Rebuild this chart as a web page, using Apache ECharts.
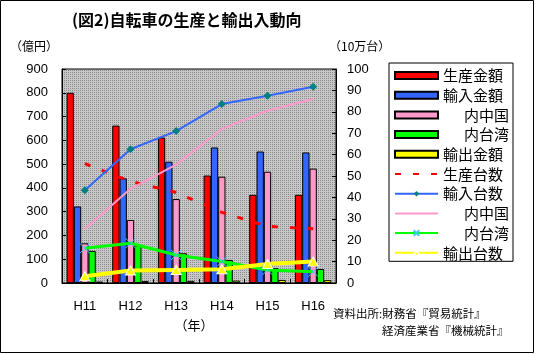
<!DOCTYPE html>
<html><head><meta charset="utf-8">
<script src="https://cdn.jsdelivr.net/npm/echarts@6/dist/echarts.min.js"></script>
<style>html,body{margin:0;padding:0;background:#fff}#c{width:535px;height:354px}</style>
</head><body><div id="c"></div>
<script>
// ---- data ----
const categories = ['H11', 'H12', 'H13', 'H14', 'H15', 'H16'];
// 億円 (left axis)
const prodValue = [800, 662, 612, 452, 371, 371];
const importValue = [322, 440, 510, 570, 553, 549];
const importValueChina = [167, 265, 353, 447, 468, 481];
const importValueTaiwan = [135, 158, 125, 97, 63, 59];
const exportValue = [6, 8, 9, 10, 13, 12];
// 10万台 (right axis)
const prodUnits = [55.8, 47.5, 42.3, 33, 26.5, 25.3];
const importUnits = [43.3, 62.5, 71, 83.6, 87.5, 91.7];
const importUnitsChina = [25.2, 44, 55.3, 72, 80.5, 86];
const importUnitsTaiwan = [16.2, 18.6, 13.1, 10, 6.1, 5.3];
const exportUnits = [3.2, 5.8, 6.1, 6.4, 8.9, 10];
const leftAxisMax = 900, leftAxisStep = 100;
const rightAxisMax = 100, rightAxisStep = 10;

const FONT = '"Noto Sans CJK JP", sans-serif';
const NUMFONT = '"Liberation Sans", Arial, sans-serif';

// dotted background pattern
const pc = document.createElement('canvas');
pc.width = 2; pc.height = 2;
const g = pc.getContext('2d');
g.fillStyle = '#c8c8c8'; g.fillRect(0, 0, 2, 2);
g.fillStyle = '#8a8a8a'; g.fillRect(0, 0, 1, 1);

const legendLabels = {
  '生産金額': '生産金額', '輸入金額': '輸入金額', '内中国A': '{ind|\u3000}内中国', '内台湾A': '{ind|\u3000}内台湾',
  '輸出金額': '輸出金額', '生産台数': '生産台数', '輸入台数': '輸入台数', '内中国B': '{ind|\u3000}内中国',
  '内台湾B': '{ind|\u3000}内台湾', '輸出台数': '輸出台数'
};

function bar(name, data, color) {
  return { name, type: 'bar', data, yAxisIndex: 0, barGap: '0%', barCategoryGap: '20%',
    itemStyle: { color, borderColor: '#000', borderWidth: 1 } };
}

const chart = echarts.init(document.getElementById('c'), null, { renderer: 'canvas' });
chart.setOption({
  animation: false,
  grid: { left: 62, right: 199, top: 69, bottom: 71, show: true,
    backgroundColor: { image: pc, repeat: 'repeat' }, borderColor: '#000', borderWidth: 1 },
  legend: {
    orient: 'vertical', left: 389, top: 63, itemWidth: 43, itemHeight: 7, itemGap: 4.7,
    padding: [5, 4, 1, 5], backgroundColor: '#fff', borderColor: '#000', borderWidth: 1,
    textStyle: { fontFamily: FONT, fontSize: 15, color: '#000', lineHeight: 14,
      rich: { ind: { width: 21, fontSize: 15, fontFamily: FONT } } },
    formatter: n => legendLabels[n],
    data: [
      { name: '生産金額', icon: 'rect' }, { name: '輸入金額', icon: 'rect' },
      { name: '内中国A', icon: 'rect' }, { name: '内台湾A', icon: 'rect' },
      { name: '輸出金額', icon: 'rect' },
      { name: '生産台数', itemStyle: { opacity: 0 } },
      '輸入台数',
      { name: '内中国B', itemStyle: { opacity: 0 } },
      '内台湾B', '輸出台数'
    ]
  },
  xAxis: {
    type: 'category', data: categories, boundaryGap: true,
    axisLine: { lineStyle: { color: '#000' } },
    axisTick: { show: true, inside: true, length: 4, lineStyle: { color: '#000' } },
    axisLabel: { color: '#000', fontFamily: NUMFONT, fontSize: 13, margin: 17 },
    splitLine: { show: false }
  },
  yAxis: [
    { type: 'value', min: 0, max: leftAxisMax, interval: leftAxisStep, position: 'left',
      axisLine: { show: true, lineStyle: { color: '#000' } },
      axisTick: { show: true, inside: true, length: 4, lineStyle: { color: '#000' } },
      axisLabel: { color: '#000', fontFamily: NUMFONT, fontSize: 13, margin: 14 },
      splitLine: { show: false } },
    { type: 'value', min: 0, max: rightAxisMax, interval: rightAxisStep, position: 'right',
      axisLine: { show: true, lineStyle: { color: '#000' } },
      axisTick: { show: true, inside: true, length: 4, lineStyle: { color: '#000' } },
      axisLabel: { color: '#000', fontFamily: NUMFONT, fontSize: 13, margin: 11 },
      splitLine: { show: false } }
  ],
  series: [
    bar('生産金額', prodValue, '#ff0000'),
    bar('輸入金額', importValue, '#3366ff'),
    bar('内中国A', importValueChina, '#ff99cc'),
    bar('内台湾A', importValueTaiwan, '#00ff00'),
    bar('輸出金額', exportValue, '#ffff00'),
    { name: '生産台数', type: 'line', yAxisIndex: 1, data: prodUnits, symbol: 'none',
      lineStyle: { color: '#ff0000', width: 3, type: [6, 12] }, itemStyle: { color: '#ff0000' } },
    { name: '輸入台数', type: 'line', yAxisIndex: 1, data: importUnits, symbol: 'diamond', symbolSize: 8,
      lineStyle: { color: '#3366ff', width: 2 }, itemStyle: { color: '#008080', borderWidth: 0 } },
    { name: '内中国B', type: 'line', yAxisIndex: 1, data: importUnitsChina, symbol: 'none',
      lineStyle: { color: '#ff99cc', width: 2 }, itemStyle: { color: '#ff99cc' } },
    { name: '内台湾B', type: 'line', yAxisIndex: 1, data: importUnitsTaiwan,
      symbol: 'path://M0,0L10,10M10,0L0,10', symbolSize: 10,
      lineStyle: { color: '#00ff00', width: 3 }, itemStyle: { color: 'rgba(0,0,0,0)', borderColor: '#33ccff', borderWidth: 1 } },
    { name: '輸出台数', type: 'line', yAxisIndex: 1, data: exportUnits, symbol: 'triangle', symbolSize: [10, 9],
      lineStyle: { color: '#ffff00', width: 4 }, itemStyle: { color: '#ffff00', borderColor: '#ffffff', borderWidth: 1 } }
  ],
  graphic: [
    { type: 'rect', shape: { x: 0.5, y: 0.5, width: 533, height: 352 }, style: { fill: 'none', stroke: '#000', lineWidth: 1 }, silent: true },
    { type: 'text', x: 72, y: 12, style: { text: '(図2)自転車の生産と輸出入動向', font: 'bold 16px ' + FONT, fill: '#000' } },
    { type: 'text', x: 10, y: 40, style: { text: '（億円）', font: '12px ' + FONT, fill: '#000' } },
    { type: 'text', x: 329, y: 40, style: { text: '（10万台）', font: '12px ' + FONT, fill: '#000' } },
    { type: 'text', x: 194, y: 319, style: { text: '（年）', font: '13px ' + FONT, fill: '#000', align: 'center' } },
    { type: 'text', x: 333, y: 308, style: { text: '資料出所:財務省『貿易統計』', font: '11.5px ' + FONT, fill: '#000' } },
    { type: 'text', x: 382, y: 325, style: { text: '経済産業省『機械統計』', font: '11.5px ' + FONT, fill: '#000' } }
  ]
});
</script></body></html>
